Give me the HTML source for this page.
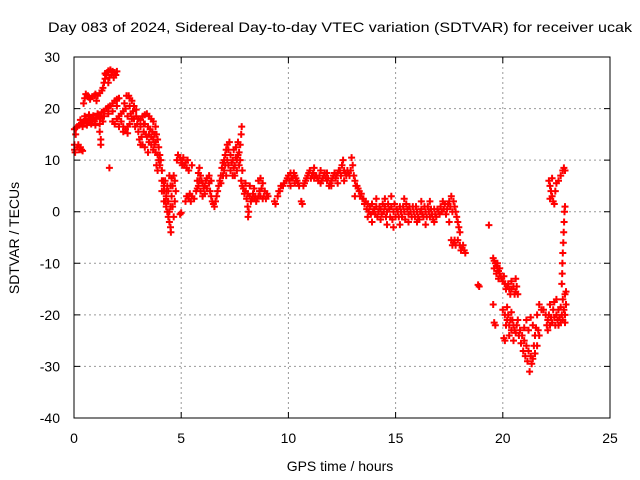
<!DOCTYPE html>
<html><head><meta charset="utf-8"><style>
html,body{margin:0;padding:0;background:#fff;}
svg{display:block;font-family:"Liberation Sans",sans-serif;}
</style></head><body>
<svg id="chart" width="640" height="480" viewBox="0 0 640 480" xmlns="http://www.w3.org/2000/svg">
<rect width="640" height="480" fill="#fff"/>
<text x="340" y="32" font-size="14" text-anchor="middle" textLength="584" lengthAdjust="spacingAndGlyphs">Day 083 of 2024, Sidereal Day-to-day VTEC variation (SDTVAR) for receiver ucak</text>
<g id="grid"></g>
<g id="marks"></g>
<rect x="74" y="57" width="536" height="361" fill="none" stroke="#000" stroke-width="1"/>
<g id="ticks"></g>
<text x="340" y="471" font-size="14" text-anchor="middle">GPS time / hours</text>
<text x="19" y="238" font-size="14" text-anchor="middle" transform="rotate(-90 19 238)">SDTVAR / TECUs</text>
</svg>
<script>
const xTicks = [0, 5, 10, 15, 20, 25];
const yTicks = [30, 20, 10, 0, -10, -20, -30, -40];
const points = [
[0.02,16],[0.02,13],[0.03,12],[0.05,11.5],[0.08,15],[0.1,16.3],[0.15,12.5],[0.2,13],[0.25,12],[0.3,12.5],[0.35,12],[0.4,11.8],
[0.15,16.5],[0.25,16.8],[0.35,17.2],[0.45,17.5],[0.55,17.8],[0.65,17.6],[0.75,18],[0.85,17.8],[0.95,17.5],[1.05,18],[1.15,18.5],[1.25,18.2],[1.35,17.5],[0.5,18.5],[0.7,18.8],[0.9,18.6],[1.1,19],[1.3,19.3],[0.4,16.5],[0.6,16.8],[0.8,17],[1.0,16.8],[1.2,17],
[1.2,15.5],[1.25,14],[1.25,13],
[0.45,21],[0.5,22],[0.55,22.8],[0.65,22.5],[0.75,21.8],[0.85,22.3],[0.95,22.5],[1.05,21.5],[1.1,22.5],[1.2,23],[1.3,23.5],
[1.35,24],[1.4,25],[1.45,25.8],[1.5,26.5],[1.55,27],[1.6,27.3],[1.7,27.5],[1.8,27.2],[1.9,27],[2.0,27.2],[1.65,26],[1.75,26.5],[1.85,26],[1.6,25],
[1.65,8.5],
[1.4,19.5],[1.5,20],[1.6,20.3],[1.7,20.5],[1.8,21],[1.9,21.5],[2.0,21.8],[2.1,22],[1.4,18.5],[1.6,19],[1.8,19.5],[2.0,20.5],
[1.8,17.5],[1.9,17],[2.0,18],[2.1,18.5],[2.2,17.5],[2.3,16.5],[2.4,16],[2.5,16.5],[2.6,17],[2.7,18],[2.1,16.5],[2.3,15.5],[2.5,15.2],
[2.3,19.5],[2.35,21],[2.45,22.5],[2.55,22.5],[2.6,22],[2.7,21.5],[2.8,20.5],[2.9,19.8],[2.4,20],[2.6,20.5],[2.75,19.5],
[2.8,18],[2.9,18.5],[3.0,18],[3.1,17.8],[2.85,16.5],[3.0,15.5],[3.05,14],[3.1,13],[3.15,14.5],
[3.2,18.5],[3.3,18.8],[3.4,19],[3.5,18.5],[3.6,18],[3.7,17.5],[3.3,17],[3.45,16.5],[3.55,16],[3.65,15.5],[3.75,15],[3.25,15.5],[3.4,14.5],[3.5,13.5],[3.6,13],[3.7,12],[3.8,11.5],[3.2,13],[3.3,12.5],[3.45,11.5],
[3.8,16.5],[3.85,15],[3.9,14],[3.95,12.5],[4.0,11],[3.85,9],[3.9,8],
[4.05,10],[4.1,8],[4.15,6],[4.2,4],[4.25,2],[4.3,1],[4.35,0],[4.4,-1],[4.45,-2],[4.5,-3],[4.52,-4],[4.1,4],[4.2,2],[4.3,3],[4.4,2],[4.5,1],[4.55,3],[4.6,5],[4.65,7],[4.7,6],[4.6,1],[4.7,2],[4.65,-1],[4.75,4],[4.25,6],[4.35,5],[4.45,7],[4.55,6.5],
[4.8,10],[4.85,11],[4.95,10.5],[5.05,10],[5.15,9],[5.25,8.5],[5.35,8],[5.0,9.5],[5.1,10.5],[5.3,10],[5.5,9],
[4.95,-0.5],[5.0,-0.2],
[5.2,2],[5.3,3],[5.4,3.5],[5.5,3],[5.6,2.5],[5.45,2],
[5.7,4],[5.75,6],[5.8,7.5],[5.85,8.5],[5.9,7],[5.95,6],[6.0,5.5],[6.1,5],[6.2,4.5],[6.3,5.5],[6.4,6],[5.8,5],[5.9,4],[6.0,3],[6.1,3.5],[6.2,6.5],[6.3,7],
[6.4,3],[6.45,2],[6.5,1.5],[6.55,1],[6.6,2],[6.65,3],[6.7,4],
[6.75,5],[6.8,6],[6.85,7],[6.9,8.5],[6.95,9.5],[7.0,10],[7.05,11],[7.1,12],[7.15,13],[7.2,12],[7.3,11],[7.4,10],[7.5,9],[7.6,10],[7.7,11.5],[7.75,13],[7.8,15],[7.82,16.5],[7.0,8],[7.1,7],[7.2,9],[7.3,8],[7.4,7],[7.5,7],[7.6,8],[7.7,9],[7.25,13.5],[7.45,12],[7.55,12.5],[7.65,13.5],
[7.8,6],[7.85,5],[7.9,4.5],[8.0,4],[8.1,3.5],[8.2,3],[8.3,2.5],[8.4,2.5],[8.5,2],[8.6,3],[8.7,3],[8.8,2.5],[8.0,5.5],[8.2,5],[8.4,4.5],[8.1,1],[8.15,0],[8.12,-1],[8.6,6],[8.7,6.5],[8.8,5.5],[8.9,4],[9.0,3.5],[9.05,3],
[9.35,2],[9.4,1.5],[9.5,3],[9.6,4],[9.7,5],[9.8,5.5],
[9.9,6],[10.0,7],[10.1,7.5],[10.2,6.5],[10.3,7],[10.4,6],[10.5,5],[10.6,2],[10.65,1.5],[10.7,5],[10.8,6],[10.9,7],[11.0,8],[10.1,5],[10.3,5.5],
[11.1,7],[11.2,6.5],[11.3,7],[11.4,6],[11.5,5.5],[11.6,6.5],[11.7,7.5],[11.8,6],[11.9,5],[12.0,6],[12.1,7],[12.2,6.5],[12.3,7.5],[12.4,8],[12.5,9],[12.55,10],[12.6,8],[12.7,7],[12.8,7.5],[12.9,8],[12.95,10.5],[13.0,9],[11.2,8.5],[11.5,8],[11.8,7.5],[12.0,5],[12.3,5.5],[12.6,6],
[13.05,7],[13.1,6],[13.2,5],[13.3,4],[13.4,3.5],[13.1,3],
[13.5,2.5],[13.6,2],[13.7,1.5],[13.8,1],[13.9,1.5],[14.0,0.5],[14.1,1],[14.2,0],[14.3,0.5],[14.4,1.5],[14.5,1],[14.6,0],[14.7,0.5],[14.8,1],[14.9,0],[15.0,-1],[13.7,-1],[13.9,-2],[14.3,-1.5],[14.6,-2.5],[14.9,-3],[14.1,2.5],[14.5,2.5],[14.8,3],
[15.1,0],[15.2,1],[15.3,-1],[15.4,0],[15.5,1.5],[15.6,-0.5],[15.7,0],[15.8,1],[15.9,-1],[16.0,0],[16.1,-1.5],[16.2,0.5],[16.3,-1],[16.4,0],[16.5,1],[16.6,-1],[16.7,-0.5],[16.8,0.5],[16.9,-1],[17.0,0],[15.2,-2.5],[15.6,-2],[16.0,-2],[16.4,-2.5],[16.8,-2],[15.4,2.5],[16.2,2],[16.6,2],
[17.1,1],[17.2,2],[17.3,1.5],[17.4,0.5],[17.5,2],[17.6,3],[17.7,2],[17.8,0],[17.9,-2],[18.0,-4],[17.5,-2],[17.6,-5.5],[17.7,-6],[17.8,-6.5],[17.9,-5.5],[18.0,-6.5],[18.1,-7],[18.2,-7.5],[18.25,-8],
[18.85,-14.2],[18.9,-14.5],[19.35,-2.6],
[19.55,-9],[19.6,-9.5],[19.65,-10],[19.7,-10.5],[19.75,-11],[19.8,-11.5],[19.85,-12],[19.9,-12.5],[20.0,-13.5],[20.1,-14],[20.2,-14.5],[20.3,-15],[20.4,-15],[20.5,-14.5],[20.6,-15.5],[20.7,-16],[19.6,-11],[19.7,-12],[19.8,-13],[20.4,-13.5],[20.6,-13],
[19.55,-18],[19.6,-21.5],[19.65,-22],[20.05,-24.5],[20.1,-25],
[20.0,-19],[20.1,-20],[20.2,-21],[20.3,-22],[20.4,-23],[20.5,-22],[20.6,-23.5],[20.2,-18.5],[20.4,-19.5],[20.3,-24],[20.5,-25],[20.7,-21],
[20.8,-23],[20.9,-24],[21.0,-25],[21.1,-26],[21.2,-27],[21.3,-28],[21.4,-28.5],[21.5,-27.5],[21.6,-26],[21.7,-24],[21.0,-22.5],[21.2,-23],[21.4,-22],[21.5,-24],[21.6,-20],[21.7,-18],[21.8,-19],[21.1,-21],[21.3,-20.5],[21.25,-31],
[21.9,-19],[22.0,-20],[22.1,-21],[22.2,-22],[22.3,-21.5],[22.4,-20.5],[22.5,-20],[22.6,-19],[22.7,-18.5],[22.8,-17],[22.9,-16],[22.95,-15.5],[22.2,-18],[22.4,-17.5],[22.6,-22],[22.7,-21.5],[22.8,-21],[22.9,-20],[22.1,-23],
[22.75,-14],[22.77,-12],[22.78,-10],[22.8,-8],[22.82,-6],[22.84,-4],[22.86,-2],[22.88,0],[22.9,1],
[22.15,6],[22.2,5],[22.25,4],[22.3,3],[22.35,2],[22.4,1.5],[22.45,4],[22.5,5.5],[22.6,6],[22.7,7],[22.8,8],[22.85,8.5],[22.9,8],[22.2,2.5],[22.3,6.5]
];
const extraPoints = [
[0.3,17.8],[0.6,17.2],[0.9,18.2],[1.2,18.2],[0.7,22.2],[1.0,22.8],[1.45,26.8],[1.75,27],[1.95,26.5],
[2.2,19],[2.5,18.5],[2.65,19],[2.95,17],[3.1,16.5],[3.25,17],[3.35,15],[3.5,15],[3.6,14.5],[3.7,14],[3.75,13],[3.8,13.5],[3.9,11],[3.95,10],[4.0,9],[4.1,6],[4.2,5],[4.3,4],[4.4,4],[4.5,5],[4.45,0],[4.35,2],
[5.05,9],[5.2,9.5],[5.25,3],[5.35,2.5],[5.75,4.5],[5.85,6],[6.05,4.5],[6.15,6],[6.35,4],[6.85,5.5],[6.95,7],[7.05,9],[7.15,10],[7.35,9.5],[7.45,8.5],[7.55,10.5],[7.65,11],[7.75,10],[7.85,8],
[7.95,3.5],[8.05,2.5],[8.25,2],[8.35,3.5],[8.45,3],[8.55,2.5],[8.65,4],[8.75,4.5],[8.85,3],[8.95,2.5],
[9.55,4],[9.65,5],[9.75,5],[9.95,6.5],[10.05,6],[10.15,6.5],[10.25,7.5],[10.35,6.5],[10.45,5.5],[10.75,5.5],[10.85,6.5],[10.95,7.5],[11.05,6.5],
[11.15,7.5],[11.25,7],[11.35,6.5],[11.45,7],[11.55,6],[11.65,7],[11.75,6.5],[11.85,6.5],[11.95,5.5],[12.05,6.5],[12.15,7.5],[12.25,7],[12.35,8],[12.45,7],[12.65,7.5],[12.75,8],[12.85,7],
[13.15,5],[13.25,4.5],[13.35,3],[13.45,2.5],[13.55,1.5],[13.65,0.5],[13.75,0],[13.85,-0.5],[13.95,0],[14.05,-0.5],[14.15,-1],[14.25,1],[14.35,-0.5],[14.45,0],[14.55,-1],[14.65,1.5],[14.75,-1],[14.85,-1.5],[14.95,1.5],
[15.05,0.5],[15.15,-1],[15.25,0],[15.35,1],[15.45,-1.5],[15.55,0.5],[15.65,1],[15.75,-1],[15.85,0],[15.95,1],[16.05,-1],[16.15,0],[16.25,-0.5],[16.35,1],[16.45,-1],[16.55,0],[16.65,0.5],[16.75,-1.5],[16.85,-0.5],[16.95,0.5],
[17.05,-0.5],[17.15,0],[17.25,0.5],[17.35,-0.5],[17.45,1.5],[17.55,1],[17.65,0],[17.75,1],[17.85,-1],[17.95,-3],[17.65,-6.5],[17.75,-5.5],[18.05,-7.5],[18.15,-6.5],
[19.75,-10],[19.85,-11],[19.95,-13],[20.05,-12.5],[20.15,-15],[20.25,-14],[20.35,-16],[20.55,-16],[20.65,-14.5],
[20.15,-22],[20.25,-20],[20.35,-21],[20.45,-21],[20.55,-23],[20.65,-22],[20.75,-24],[20.85,-25.5],[20.95,-27],[21.05,-28],[21.15,-29],[21.35,-29.5],[21.45,-26],[21.55,-22.5],[21.65,-23],
[22.05,-22],[22.15,-20],[22.25,-20.5],[22.35,-19],[22.45,-22],[22.55,-21],[22.65,-20.5],[22.75,-20],[22.85,-19],[22.95,-18],[22.5,-17],[22.9,-21.5]
];
const NS = "http://www.w3.org/2000/svg";
const X0 = 74, X1 = 610, Y0 = 57, Y1 = 418;
function sx(t){ return X0 + (t - 0) / 25 * (X1 - X0); }
function sy(v){ return Y0 + (30 - v) / 70 * (Y1 - Y0); }
const grid = document.getElementById('grid');
const ticks = document.getElementById('ticks');
const marks = document.getElementById('marks');
function mk(tag, attrs){ const e = document.createElementNS(NS, tag); for (const k in attrs) e.setAttribute(k, attrs[k]); return e; }
xTicks.forEach(function(t){
  const x = sx(t);
  if (t > 0 && t < 25) {
    const g = mk('line', {x1:x, y1:Y0, x2:x, y2:Y1, stroke:'#999', 'stroke-dasharray':'2,3', 'stroke-width':1});
    
    
    grid.appendChild(g);
  }
  const tk = mk('path', {d:'M'+x+' '+Y1+'v-6M'+x+' '+Y0+'v6', stroke:'#000', 'stroke-width':1});
  
  
  ticks.appendChild(tk);
  const lb = mk('text', {x:x, y:443, 'font-size':14, 'text-anchor':'middle'});
  
  
  lb.textContent = String(t);
  ticks.appendChild(lb);
});
yTicks.forEach(function(v){
  const y = sy(v);
  if (v < 30 && v > -40) {
    const g = mk('line', {x1:X0, y1:y, x2:X1, y2:y, stroke:'#999', 'stroke-dasharray':'2,3', 'stroke-width':1});
    
    
    grid.appendChild(g);
  }
  const tk = mk('path', {d:'M'+X0+' '+y+'h6M'+X1+' '+y+'h-6', stroke:'#000', 'stroke-width':1});
  
  
  ticks.appendChild(tk);
  const lb = mk('text', {x:60, y:y+5, 'font-size':14, 'text-anchor':'end'});
  
  
  lb.textContent = String(v);
  ticks.appendChild(lb);
});
let d = '';
points.concat(extraPoints).forEach(function(p){
  const x = sx(p[0]), y = sy(p[1]);
  d += 'M'+(x-3.5).toFixed(1)+' '+y.toFixed(1)+'h7M'+x.toFixed(1)+' '+(y-3.5).toFixed(1)+'v7';
});
const path = mk('path', {d:d, stroke:'#ff0000', 'stroke-width':2, fill:'none'});


marks.appendChild(path);
</script>
</body></html>
